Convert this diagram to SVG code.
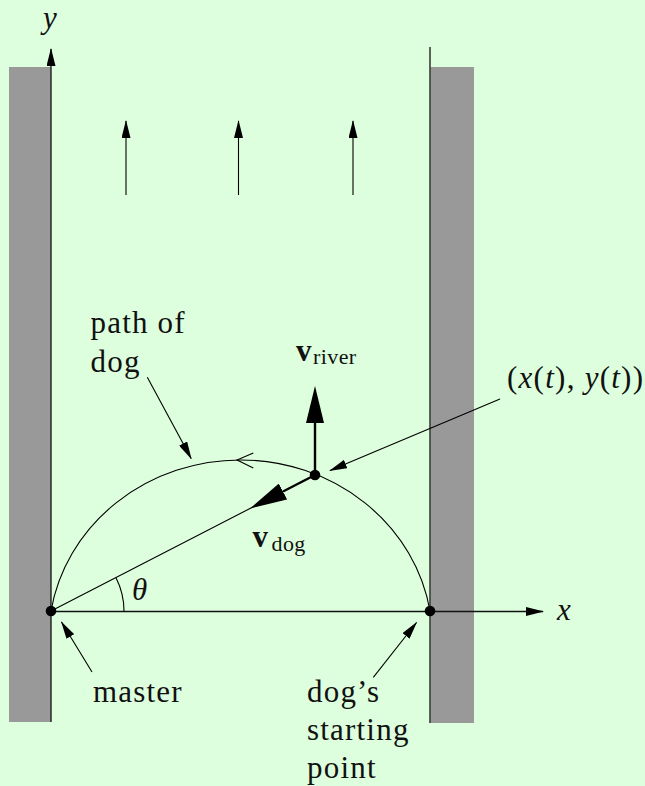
<svg xmlns="http://www.w3.org/2000/svg" width="645" height="786" viewBox="0 0 645 786">
<style>
.bg{fill:#ddffdd}
.bank{fill:#999999}
.ln{stroke:#000;stroke-width:1.1;fill:none}
.ax{stroke:#111;stroke-width:1.3;fill:none}
.thick{stroke:#000;stroke-width:2.4;fill:none}
.dot{fill:#000}
.t{font-family:"Liberation Serif","Times New Roman",serif;font-size:31px;fill:#111;letter-spacing:1.2px}
.m{font-family:"Liberation Serif","Times New Roman",serif;font-size:31px;fill:#111;font-style:italic}
.b{font-family:"Liberation Serif","Times New Roman",serif;font-size:31px;fill:#111;font-weight:bold}
.s{font-family:"Liberation Serif","Times New Roman",serif;font-size:22px;fill:#111;letter-spacing:0.4px}
</style>
<defs>
<marker id="ah" viewBox="0 0 18 9" refX="17" refY="4.5" markerWidth="18" markerHeight="9" markerUnits="userSpaceOnUse" orient="auto">
<path d="M0,0 L18,4.5 L0,9 z" fill="#000"/>
</marker>
<marker id="big" viewBox="0 0 37 18" refX="0" refY="9" markerWidth="37" markerHeight="18" markerUnits="userSpaceOnUse" orient="auto">
<path d="M0,0 L37,9 L0,18 z" fill="#000"/>
</marker>
</defs>
<rect class="bg" x="0" y="0" width="645" height="786"/>
<g id="left-bank"><rect class="bank" x="9" y="67" width="42" height="655"/></g>
<g id="right-bank"><rect class="bank" x="430.5" y="67" width="43.5" height="656"/></g>
<g id="connectors">
<line class="ax" x1="51" y1="722" x2="51" y2="49" marker-end="url(#ah)"/>
<line class="ax" x1="430" y1="723" x2="430" y2="47"/>
<line class="ax" x1="51" y1="611.5" x2="543" y2="611.5" marker-end="url(#ah)"/>
<line class="ln" x1="126" y1="195" x2="126" y2="121" marker-end="url(#ah)"/>
<line class="ln" x1="238.5" y1="195" x2="238.5" y2="121" marker-end="url(#ah)"/>
<line class="ln" x1="353" y1="195" x2="353" y2="121" marker-end="url(#ah)"/>
<path id="dog-path" class="ln" d="M51,611 A192,180 0 0 1 430,611"/>
<polyline class="ln" points="253.3,452.9 237,460 253.3,467.9"/>
<line class="ln" x1="51" y1="611" x2="315" y2="475"/>
<path class="ln" d="M124,611.5 A73,73 0 0 0 116.1,578"/>
<line class="thick" x1="315" y1="475" x2="315" y2="423" marker-end="url(#big)"/>
<line class="thick" x1="315" y1="475" x2="283" y2="491.5" marker-end="url(#big)"/>
<line class="ln" x1="500" y1="399" x2="330" y2="470.6" marker-end="url(#ah)"/>
<line class="ln" x1="147.3" y1="377.3" x2="191.2" y2="458.5" marker-end="url(#ah)"/>
<line class="ln" x1="92" y1="672" x2="61.5" y2="622" marker-end="url(#ah)"/>
<line class="ln" x1="373.3" y1="677.3" x2="416.5" y2="622.5" marker-end="url(#ah)"/>
</g>
<g id="master"><circle class="dot" cx="51" cy="611" r="5.3"/></g>
<g id="dog-start"><circle class="dot" cx="430" cy="611" r="5.3"/></g>
<g id="dog-position"><circle class="dot" cx="315" cy="475" r="5.3"/></g>
<g id="labels">
<text class="m" x="43" y="28">y</text>
<text class="m" x="557" y="620">x</text>
<text class="m" x="132" y="600">θ</text>
<text class="t" x="90.5" y="333">path of</text>
<text class="t" x="90.5" y="372">dog</text>
<text class="b" x="296" y="361">v</text><text class="s" x="313" y="364">river</text>
<text class="b" x="252.5" y="547">v</text><text class="s" x="271.5" y="551">dog</text>
<text class="m" x="507" y="388" textLength="136" lengthAdjust="spacing"><tspan font-style="normal">(</tspan>x<tspan font-style="normal">(</tspan>t<tspan font-style="normal">), </tspan>y<tspan font-style="normal">(</tspan>t<tspan font-style="normal">))</tspan></text>
<text class="t" x="93" y="702">master</text>
<text class="t" x="307" y="702">dog’s</text>
<text class="t" x="307" y="740">starting</text>
<text class="t" x="307" y="778">point</text>
</g>
</svg>
